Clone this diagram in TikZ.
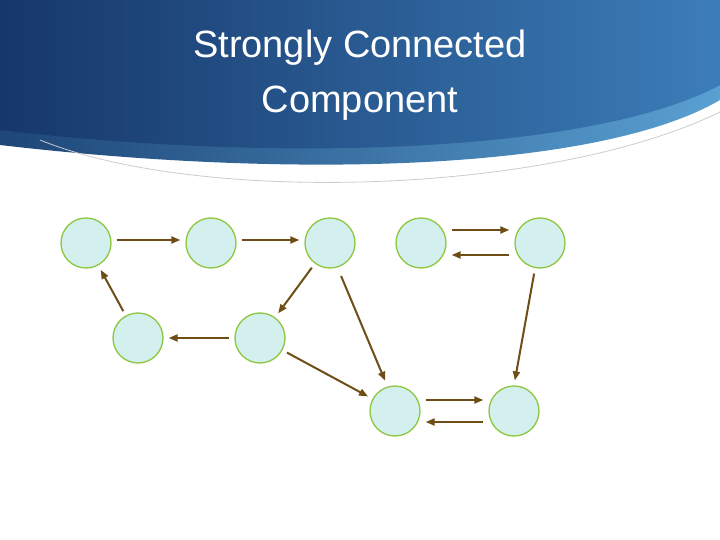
\documentclass[tikz,border=0pt]{standalone}
\usepackage{fontspec}
\setmainfont{Liberation Sans}
\usetikzlibrary{arrows.meta}
\definecolor{brn}{RGB}{110,78,22}
\definecolor{vfill}{RGB}{212,240,238}
\definecolor{vline}{RGB}{140,198,63}
\begin{document}
\begin{tikzpicture}[x=1pt,y=-1pt,
  vtx/.style={circle,draw=vline,line width=1.3pt,fill=vfill,minimum width=50pt,inner sep=0pt},
  arr/.style={draw=brn,line width=2pt,-{Triangle[length=9pt,width=7pt]}}]
\useasboundingbox (0,0) rectangle (720,540);
\fill[white] (0,0) rectangle (720,540);
\shade[left color={rgb,255:red,30;green,70;blue,120},right color={rgb,255:red,90;green,160;blue,210}]
  (0,0) -- (720,0) -- (720,100) .. controls (600,170) and (300,180) .. (0,145) -- cycle;
\shade[left color={rgb,255:red,22;green,55;blue,105},right color={rgb,255:red,60;green,125;blue,185}]
  (0,0) -- (720,0) -- (720,85) .. controls (600,150) and (300,165) .. (0,130) -- cycle;
\draw[gray!40,line width=0.8pt] (40,140) .. controls (200,205) and (550,195) .. (720,112);
\node[text=white,font=\fontsize{38}{55}\selectfont,align=center] (title) at (360,75) {Strongly Connected\\Component};
\node[vtx] (A) at (86,243) {};
\node[vtx] (B) at (211,243) {};
\node[vtx] (C) at (330,243) {};
\node[vtx] (D) at (421,243) {};
\node[vtx] (E) at (540,243) {};
\node[vtx] (F) at (138,338) {};
\node[vtx] (G) at (260,338) {};
\node[vtx] (H) at (395,411) {};
\node[vtx] (I) at (514,411) {};
\tikzset{sh/.style={shorten <=5pt,shorten >=5pt}}
\draw[arr,sh] ([yshift=3pt]A.east) -- ([yshift=3pt]B.west);
\draw[arr,sh] ([yshift=3pt]B.east) -- ([yshift=3pt]C.west);
\draw[arr,sh] (C) -- (G);
\draw[arr,sh] (G) -- (F);
\draw[arr,sh] (F) -- (A);
\draw[arr,sh] (G) -- (H);
\draw[arr,sh,shorten <=8pt] ([xshift=8pt]C.south) -- ([xshift=-8pt]H.north);
\draw[arr,sh] ([yshift=13pt]D.east) -- ([yshift=13pt]E.west);
\draw[arr,sh] ([yshift=-12pt]E.west) -- ([yshift=-12pt]D.east);
\draw[arr,sh] ([xshift=-5pt]E.south) -- (I.north);
\draw[arr,sh] ([yshift=11pt]H.east) -- ([yshift=11pt]I.west);
\draw[arr,sh] ([yshift=-11pt]I.west) -- ([yshift=-11pt]H.east);
\end{tikzpicture}
\end{document}
